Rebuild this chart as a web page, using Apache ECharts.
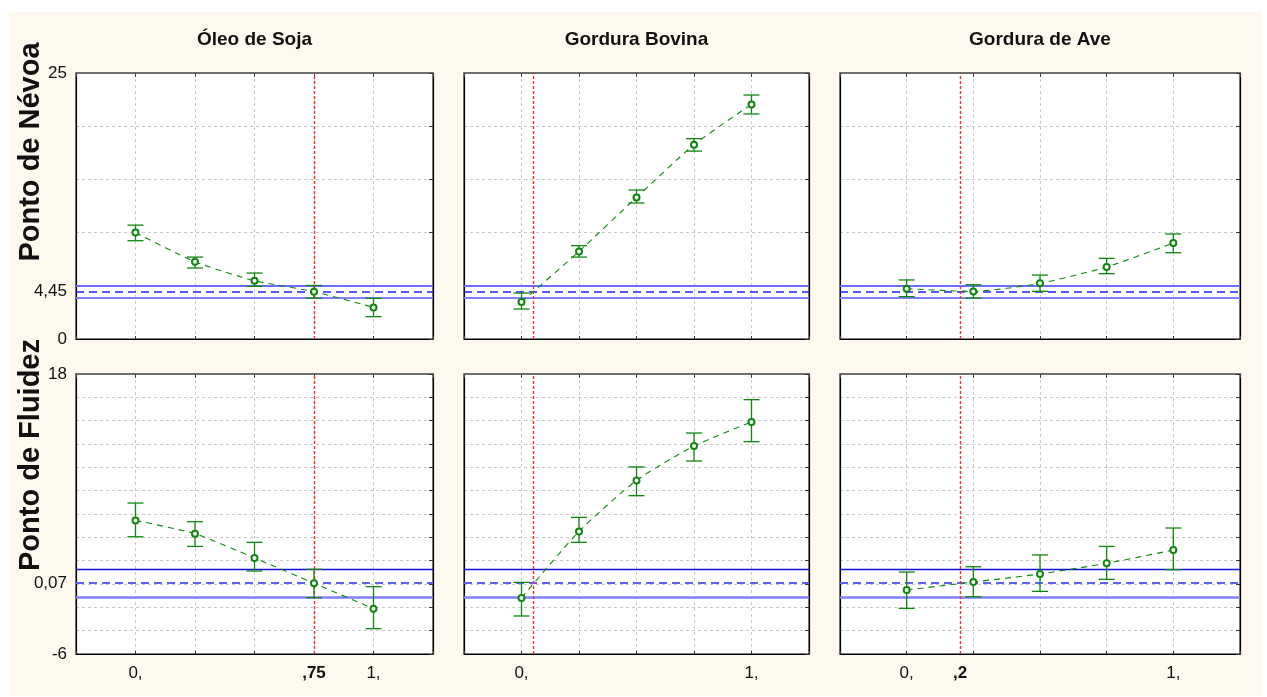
<!DOCTYPE html>
<html><head><meta charset="utf-8">
<script src="https://cdn.jsdelivr.net/npm/echarts@6/dist/echarts.min.js"></script>
<style>
html,body{margin:0;padding:0;background:#fff;width:1267px;height:697px;overflow:hidden}
#bg{position:absolute;left:9px;top:12px;width:1253px;height:684px;background:#fdf9ee}
#chart{position:absolute;left:0;top:0;width:1267px;height:697px}
</style></head><body><div id="bg"></div><div id="chart"></div>
<script>
// ---------- data ----------
const factors = ['Óleo de Soja', 'Gordura Bovina', 'Gordura de Ave'];
const responses = ['Ponto de Névoa', 'Ponto de Fluidez'];
const levels = [0, 0.25, 0.5, 0.75, 1];
const currentSetting = [0.75, 0.05, 0.2];
const xTickLabels = [[0, 0.75, 1], [0, 1], [0, 0.2, 1]];

// Ponto de Névoa
const nevoaSojaMean   = [10.0, 7.26, 5.48, 4.45, 2.97];
const nevoaSojaHigh   = [10.7, 7.7, 6.2, 5.03, 3.82];
const nevoaSojaLow    = [9.24, 6.67, 4.95, 3.85, 2.1];
const nevoaBovinaMean = [3.48, 8.23, 13.31, 18.26, 22.05];
const nevoaBovinaHigh = [4.32, 8.77, 14.0, 18.83, 22.93];
const nevoaBovinaLow  = [2.82, 7.7, 12.78, 17.66, 21.15];
const nevoaAveMean    = [4.73, 4.47, 5.23, 6.77, 9.02];
const nevoaAveHigh    = [5.55, 5.1, 6.01, 7.58, 9.87];
const nevoaAveLow     = [3.98, 3.85, 4.48, 6.14, 8.11];
const nevoaPredicted  = [3.85, 4.45, 5.03];   // low, value, high
const nevoaTickLabels = [0, 4.45, 25];

// Ponto de Fluidez
const fluidezSojaMean   = [5.45, 4.31, 2.23, 0.07, -2.12];
const fluidezSojaHigh   = [6.94, 5.34, 3.57, 1.26, -0.23];
const fluidezSojaLow    = [4.05, 3.22, 1.11, -1.17, -3.83];
const fluidezBovinaMean = [-1.2, 4.51, 8.88, 11.83, 13.89];
const fluidezBovinaHigh = [0.14, 5.71, 10.03, 12.94, 15.8];
const fluidezBovinaLow  = [-2.74, 3.57, 7.57, 10.54, 12.2];
const fluidezAveMean    = [-0.51, 0.17, 0.86, 1.77, 2.91];
const fluidezAveHigh    = [1.03, 1.48, 2.49, 3.22, 4.8];
const fluidezAveLow     = [-2.09, -1.09, -0.63, 0.4, 1.23];
const fluidezPredicted  = [-1.17, 0.07, 1.29];
const fluidezTickLabels = [-6, 0.07, 18];

// ---------- build ----------
const rowsData = [
  {means:[nevoaSojaMean,nevoaBovinaMean,nevoaAveMean], highs:[nevoaSojaHigh,nevoaBovinaHigh,nevoaAveHigh], lows:[nevoaSojaLow,nevoaBovinaLow,nevoaAveLow], pred:nevoaPredicted, ticks:nevoaTickLabels, min:0, max:25, step:5},
  {means:[fluidezSojaMean,fluidezBovinaMean,fluidezAveMean], highs:[fluidezSojaHigh,fluidezBovinaHigh,fluidezAveHigh], lows:[fluidezSojaLow,fluidezBovinaLow,fluidezAveLow], pred:fluidezPredicted, ticks:fluidezTickLabels, min:-6, max:18, step:2}
];
const colLeft = [76, 464, 840];
const colWidth = [357, 345, 400];
const rowTop = [73, 374];
const rowHeight = [266, 280];
const FONT = '"Liberation Sans", Arial, sans-serif';
const GREEN = '#0f870f';
const fmt = v => String(v).replace('.', ',');
const fmtX = v => v === 0 ? '0,' : (v === 1 ? '1,' : '{b|' + String(v).replace('0.', ',') + '}');

const blueStyles = [
  {lo:{color:'#8080ff',width:2,type:'solid'}, mid:{color:'#2020ff',width:1.5,type:[8,5]}, hi:{color:'#6c6cff',width:2,type:'solid'}},
  {lo:{color:'#7f7fff',width:2.5,type:'solid'}, mid:{color:'#6060ff',width:2,type:[8,5]}, hi:{color:'#1010d8',width:1.4,type:'solid'}}
];

const grid = [], xAxis = [], yAxis = [], series = [];
for (let r = 0; r < 2; r++) {
  const rd = rowsData[r];
  for (let c = 0; c < 3; c++) {
    const idx = r * 3 + c;
    grid.push({left: colLeft[c], top: rowTop[r], width: colWidth[c], height: rowHeight[r],
      show: true, backgroundColor: '#fff', borderColor: '#000', borderWidth: 1});
    xAxis.push({type:'value', gridIndex: idx, min:-0.25, max:1.25, interval:0.25, position:'bottom',
      axisLine:{show:true, onZero:false, lineStyle:{color:'#000', width:1.2}},
      axisTick:{show:true, inside:true, length:3, lineStyle:{color:'#333'}},
      splitLine:{show:true, lineStyle:{color:'#c9c9c9', type:[3,3], width:1}},
      axisLabel: r === 1 ? {show:true, customValues: xTickLabels[c], formatter: fmtX, margin: 11,
        fontFamily: FONT, fontSize: 17, color:'#111', rich:{b:{fontWeight:'bold', fontFamily: FONT, fontSize:17, color:'#111'}}} : {show:false}
    });
    xAxis.push({type:'value', gridIndex: idx, min:-0.25, max:1.25, interval:0.25, position:'top',
      axisLine:{show:true, onZero:false, lineStyle:{color:'#6e6e6e', width:2}},
      axisTick:{show:true, inside:true, length:4, lineStyle:{color:'#444'}},
      splitLine:{show:false}, axisLabel:{show:false}});
    yAxis.push({type:'value', gridIndex: idx, min: rd.min, max: rd.max, interval: rd.step, position:'left',
      axisLine:{show:true, onZero:false, lineStyle:{color:'#000', width:1.2}},
      axisTick:{show:false},
      splitLine:{show:true, lineStyle:{color:'#c9c9c9', type:[3,3], width:1}},
      axisLabel: c === 0 ? {show:true, customValues: rd.ticks, formatter: fmt, margin: 9,
        fontFamily: FONT, fontSize: 17, color:'#111'} : {show:false}
    });
    yAxis.push({type:'value', gridIndex: idx, min: rd.min, max: rd.max, interval: rd.step, position:'right',
      axisLine:{show:true, onZero:false, lineStyle:{color:'#000', width:1.2}},
      axisTick:{show:true, inside:true, length:4, lineStyle:{color:'#333'}},
      splitLine:{show:false}, axisLabel:{show:false}});

    const means = rd.means[c], highs = rd.highs[c], lows = rd.lows[c];
    const bs = blueStyles[r];
    series.push({
      type:'custom', xAxisIndex: 2*idx, yAxisIndex: 2*idx, z: 4, silent: true,
      data: levels.map((x, i) => [x, lows[i], highs[i]]),
      encode: {x: 0, y: [1, 2]},
      renderItem: (params, api) => {
        const x = api.value(0);
        const pLo = api.coord([x, api.value(1)]);
        const pHi = api.coord([x, api.value(2)]);
        const w = 8;
        const st = {stroke: GREEN, lineWidth: 1.3};
        return {type:'group', children:[
          {type:'line', shape:{x1:pLo[0], y1:pLo[1], x2:pHi[0], y2:pHi[1]}, style: st},
          {type:'line', shape:{x1:pLo[0]-w, y1:pLo[1], x2:pLo[0]+w, y2:pLo[1]}, style: st},
          {type:'line', shape:{x1:pHi[0]-w, y1:pHi[1], x2:pHi[0]+w, y2:pHi[1]}, style: st}
        ]};
      },
      markLine: {silent:true, symbol:['none','none'], z: 2, animation:false, label:{show:false},
        data: [
          {yAxis: rd.pred[0], lineStyle: bs.lo},
          {yAxis: rd.pred[1], lineStyle: bs.mid},
          {yAxis: rd.pred[2], lineStyle: bs.hi}
        ]}
    });
    series.push({
      type:'line', xAxisIndex: 2*idx, yAxisIndex: 2*idx, z: 5, silent: true,
      data: levels.map((x, i) => [x, means[i]]),
      smooth: 0.2,
      symbol: 'emptyCircle', symbolSize: 6,
      itemStyle: {color: GREEN, borderWidth: 1},
      lineStyle: {color: GREEN, width: 1.1, type: [6, 5]},
      markLine: {silent:true, symbol:['none','none'], z: 3, animation:false, label:{show:false},
        data: [{xAxis: currentSetting[c], lineStyle:{color:'#ff2a2a', width:1.4, type:[3,2]}}]}
    });
  }
}

const graphic = [];
factors.forEach((f, c) => {
  graphic.push({type:'text', x: colLeft[c] + colWidth[c] / 2, y: 40,
    style:{text: f, fontFamily: FONT, fontWeight:'bold', fontSize: 19, fill:'#111', align:'center', verticalAlign:'middle'}});
});
const rowLabelY = [152, 455];
responses.forEach((t, r) => {
  graphic.push({type:'text', x: 31, y: rowLabelY[r], rotation: Math.PI / 2,
    style:{text: t, fontFamily: FONT, fontWeight:'bold', fontSize: 29, fill:'#111', align:'center', verticalAlign:'middle'}});
});

const chart = echarts.init(document.getElementById('chart'), null, {renderer:'canvas'});
chart.setOption({animation:false, backgroundColor:'transparent', grid, xAxis, yAxis, series, graphic});
</script></body></html>
